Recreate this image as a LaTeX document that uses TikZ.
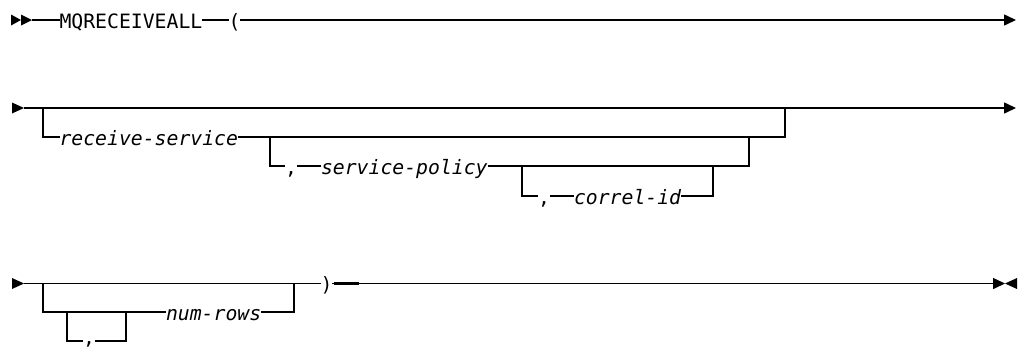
\documentclass[tikz,border=0pt]{standalone}
\usepackage{fontspec}
\setmonofont{DejaVu Sans Mono}
\usetikzlibrary{arrows.meta}
\tikzset{
  rr/.style={line width=1.5pt, line join=miter},
  lbl/.style={inner sep=0pt, outer sep=0pt, text height=16pt, text depth=0pt, anchor=west,
    font=\ttfamily\fontsize{19.77}{24}\selectfont},
  var/.style={lbl, font=\ttfamily\itshape\fontsize{19.77}{24}\selectfont},
  lowcomma/.style={lbl, text height=7pt},
  tip/.style={-{Triangle[length=12pt,width=11pt]}},
}
\begin{document}
\begin{tikzpicture}[x=1pt,y=-1pt]
\useasboundingbox (0,0) rectangle (1025,349);
% ---------- row 1 ----------
\coordinate (s1) at (11,20);
\fill (s1) +(0,-5.5) -- +(10,0) -- +(0,5.5) -- cycle;
\fill (s1) +(10,-5.5) -- +(21,0) -- +(10,5.5) -- cycle;
\coordinate (s1e) at (32,20);
\node[lbl] (kw) at (59.5,20) {MQRECEIVEALL};
\node[lbl] (lp) at (228.5,20) {(};
\coordinate (e1) at (1016,20);
\draw[rr] (s1e) -- (kw.west);
\draw[rr] (kw.east) -- (lp.west);
\draw[rr,tip] (lp.east) -- (e1);
% ---------- row 2 ----------
\coordinate (s2) at (12,108);
\fill (s2) +(0,-5.5) -- +(12,0) -- +(0,5.5) -- cycle;
\coordinate (s2e) at (24,108);
\coordinate (e2) at (1016,108);
\draw[rr,tip] (s2e) -- (e2);
\coordinate (b1) at (43,108);
\coordinate (j1) at (785,108);
\node[var] (rs) at (59.5,137) {receive-service};
\draw[rr] (b1) |- (rs.west);
\draw[rr] (rs.east) -| (j1);
\coordinate (b2) at (270,137);
\coordinate (j2) at (749,137);
\node[lbl] (c1) at (285,166) {,};
\node[var] (sp) at (321,166) {service-policy};
\draw[rr] (b2) |- (c1.west);
\draw[rr] (c1.east) -- (sp.west);
\draw[rr] (sp.east) -| (j2);
\coordinate (b3) at (522,166);
\coordinate (j3) at (713,166);
\node[lbl] (c2) at (538,196) {,};
\node[var] (ci) at (574,196) {correl-id};
\draw[rr] (b3) |- (c2.west);
\draw[rr] (c2.east) -- (ci.west);
\draw[rr] (ci.east) -| (j3);
% ---------- row 3 ----------
\coordinate (s3) at (12,283.5);
\fill (s3) +(0,-5.5) -- +(12,0) -- +(0,5.5) -- cycle;
\coordinate (s3e) at (24,283.5);
\node[lbl] (rp) at (320.5,283.5) {)};
\coordinate (e3) at (1005,283.5);
\draw[rr] (s3e) -- (rp.west);
\draw[rr,tip] (rp.east) -- (e3);
\draw[line width=2.2pt] (rp.east) ++(2,0) -- ++(25,0);
\fill (e3) +(12,-5.5) -- +(0,0) -- +(12,5.5) -- cycle;
\coordinate (b4) at (43,283.5);
\coordinate (j4) at (294,283.5);
\node[var] (nr) at (166,312) {num-rows};
\draw[rr] (b4) |- (nr.west);
\draw[rr] (nr.east) -| (j4);
\coordinate (b5) at (67,312);
\coordinate (j5) at (126,312);
\node[lowcomma] (c3) at (83,341) {,};
\draw[rr] (b5) |- (c3.west);
\draw[rr] (c3.east) -| (j5);
\end{tikzpicture}
\end{document}
